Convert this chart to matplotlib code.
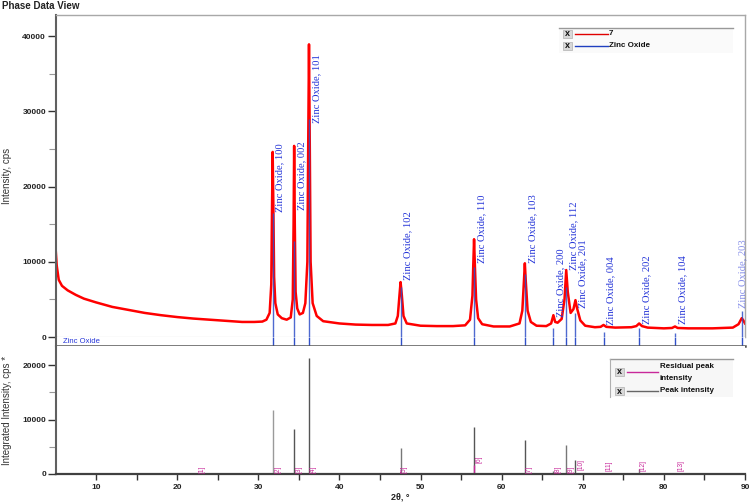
import matplotlib
matplotlib.use('Agg')
import matplotlib.pyplot as plt
from matplotlib.patches import Rectangle
from matplotlib.lines import Line2D

# ---------------- data ----------------
two_theta = [5.0, 5.15, 5.4, 5.8, 6.5, 7.5, 8.5, 10.0, 12.0, 14.0, 16.0, 18.0, 20.0, 22.0,
             24.0, 26.0, 28.0, 29.5, 30.5, 31.0, 31.4, 31.6, 31.7, 31.77, 31.85, 31.95,
             32.1, 32.4, 32.9, 33.5, 34.0, 34.25, 34.35, 34.42, 34.5, 34.6, 34.8, 35.1,
             35.5, 35.8, 36.05, 36.15, 36.25, 36.35, 36.45, 36.7, 37.2, 38.0, 40.0, 42.0,
             44.0, 46.0, 46.9, 47.2, 47.4, 47.54, 47.7, 47.9, 48.3, 50.0, 52.0, 54.0, 55.5,
             56.1, 56.4, 56.5, 56.6, 56.7, 56.85, 57.1, 57.6, 59.0, 61.0, 62.2, 62.55,
             62.75, 62.86, 62.97, 63.2, 63.6, 64.3, 65.5, 66.1, 66.38, 66.6, 66.9, 67.4,
             67.75, 67.96, 68.15, 68.5, 68.85, 69.1, 69.3, 69.7, 70.3, 71.5, 72.2, 72.56,
             72.9, 74.0, 76.0, 76.6, 76.95, 77.3, 78.0, 80.0, 81.0, 81.37, 81.7, 83.0,
             86.0, 88.5, 89.2, 89.6, 89.8, 90.0]
intensity = [12000, 9500, 7600, 6800, 6200, 5600, 5100, 4600, 4000, 3600, 3200, 2900, 2650,
             2450, 2300, 2150, 2000, 2000, 2050, 2300, 3200, 7000, 18000, 24600, 18000,
             8000, 4500, 3000, 2500, 2300, 2600, 5000, 15000, 25400, 15000, 6000, 3800,
             3000, 3200, 4500, 10000, 25000, 38900, 25000, 10000, 4500, 2800, 2100, 1800,
             1650, 1600, 1600, 1800, 2800, 5500, 7300, 5500, 2800, 1800, 1500, 1450, 1450,
             1550, 2300, 5500, 9500, 13000, 9500, 5000, 2500, 1700, 1400, 1400, 1800, 3500,
             7500, 9800, 7500, 3500, 2000, 1500, 1450, 1800, 2900, 2000, 1900, 2400, 5000,
             8900, 6000, 3200, 3700, 4900, 3800, 2200, 1500, 1300, 1350, 1600, 1350, 1250,
             1300, 1450, 1800, 1450, 1250, 1150, 1200, 1400, 1200, 1150, 1150, 1250, 1700,
             2500, 2200, 1800]

peak_pos = [31.77, 34.42, 36.25, 47.54, 56.60, 62.86, 66.38, 67.96, 69.10, 72.56,
            76.95, 81.37, 89.60]
hkl = ['100', '002', '101', '102', '110', '103', '200', '112', '201', '004', '202',
       '104', '203']
ref_height = [16500, 12800, 29000, 6700, 9300, 8400, 1200, 6700, 3200, 600, 1200, 500, 3400]
label_y = [16600, 16900, 28400, 7600, 9800, 9900, 2700, 8900, 3900, 1600, 1700, 1700, 3800]

stick_pos = [31.77, 34.42, 36.25, 47.54, 56.60, 62.86, 66.38, 67.96, 69.10, 76.95]
stick_int = [11800, 8300, 21300, 4700, 8650, 6200, 550, 5300, 2560, 860]
stick_col = ['#9a9a9a', '#555555', '#555555', '#777777', '#555555', '#555555',
             '#777777', '#777777', '#555555', '#777777']
resid_pos = [56.60]
resid_int = [1600]

peak_no = ['[1]', '[2]', '[3]', '[4]', '[5]', '[6]', '[7]', '[8]', '[9]', '[10]', '[11]',
           '[12]', '[13]']
peak_no_x = [23.1, 32.4, 35.0, 36.8, 48.0, 57.2, 63.4, 66.9, 68.5, 69.8, 73.2, 77.4, 82.1]
peak_no_y = [200, 200, 200, 200, 150, 2000, 200, 200, 200, 700, 500, 500, 500]

x_ticks = [10, 20, 30, 40, 50, 60, 70, 80, 90]

# ---------------- figure ----------------
W, H = 750, 503
fig = plt.figure(figsize=(7.5, 5.03), dpi=100)
plt.rcParams['font.family'] = ['Liberation Sans', 'DejaVu Sans']

def fx(px):
    return px / W

def fy(py):
    return 1 - py / H

L, R = 55.5, 745.0
ax1 = fig.add_axes([fx(L), fy(337), fx(R) - fx(L), (337 - 15) / H])
strip = fig.add_axes([fx(L), fy(346), fx(R) - fx(L), 9 / H])
ax2 = fig.add_axes([fx(L), fy(474), fx(R) - fx(L), (474 - 346) / H])

BLUE = '#3050c8'
TXTBLUE = '#2636d8'
MAG = '#c8289a'

tick_font = dict(fontsize=6, fontweight='bold', color='#222222')

# ---- top panel
ax1.plot(two_theta, intensity, color='#ff0000', lw=1.8, zorder=2, solid_joinstyle='round')
ax1.vlines(peak_pos, 0, ref_height, color=BLUE, lw=1.0, alpha=0.85, zorder=3)
for p, h, ly in zip(peak_pos, hkl, label_y):
    last = (h == '203')
    ax1.annotate('Zinc Oxide, ' + h, xy=(p, ly), xytext=(-2.5 if last else 2.2, 0),
                 textcoords='offset points',
                 rotation=90, ha='left', va='bottom', fontsize=7.6,
                 family=['Liberation Serif', 'DejaVu Serif'], color=TXTBLUE,
                 alpha=0.55 if last else 1.0, annotation_clip=False, zorder=4)
ax1.set_xlim(5, 90)
ax1.set_ylim(0, 42800)
ax1.set_yticks([0, 10000, 20000, 30000, 40000])
ax1.set_yticks([5000, 15000, 25000, 35000], minor=True)
ax1.set_yticklabels(['0', '10000', '20000', '30000', '40000'], **tick_font)
ax1.set_xticks([])
ax1.tick_params(axis='y', which='major', direction='out', length=6, width=1, color='#333333', pad=0.8)
ax1.tick_params(axis='y', which='minor', direction='out', length=5, width=0.8, color='#999999')
ax1.spines['left'].set_color('#606060')
ax1.spines['left'].set_linewidth(1.5)
ax1.spines['top'].set_color('#a8a8a8')
ax1.spines['top'].set_linewidth(1.0)
ax1.spines['right'].set_color('#a8a8a8')
ax1.spines['right'].set_linewidth(1.0)
ax1.spines['bottom'].set_color('#b0b0b0')
ax1.spines['bottom'].set_linewidth(0.8)
ax1.set_ylabel('Intensity, cps', fontsize=7, color='#333333', labelpad=0)
ax1.yaxis.set_label_coords(-43 / (R - L), 0.5)

# ---- strip
strip.set_xlim(5, 90)
strip.set_ylim(0, 1)
strip.vlines(peak_pos, 0, 1, color=BLUE, lw=1.0)
strip.text(5.9, 0.5, 'Zinc Oxide', fontsize=5.5, color=TXTBLUE, va='center', ha='left')
strip.set_xticks([])
strip.set_yticks([])
strip.spines['left'].set_color('#606060')
strip.spines['left'].set_linewidth(1.5)
strip.spines['top'].set_visible(False)
strip.spines['right'].set_visible(False)
strip.spines['bottom'].set_color('#555555')
strip.spines['bottom'].set_linewidth(1.8)

# ---- bottom panel
ax2.vlines(stick_pos, 0, stick_int, colors=stick_col, lw=1.0)
ax2.vlines(resid_pos, 0, resid_int, colors=MAG, lw=1.0)
for t, x, y in zip(peak_no, peak_no_x, peak_no_y):
    ax2.text(x, y, t, rotation=90, ha='center', va='bottom', fontsize=4.8, color=MAG)
ax2.set_xlim(5, 90)
ax2.set_ylim(0, 23500)
ax2.set_yticks([0, 10000, 20000])
ax2.set_yticks([5000, 15000], minor=True)
ax2.set_yticklabels(['0', '10000', '20000'], **tick_font)
ax2.set_xticks(x_ticks)
ax2.set_xticks([15, 25, 35, 45, 55, 65, 75, 85], minor=True)
ax2.set_xticklabels([str(v) for v in x_ticks], **tick_font)
ax2.tick_params(axis='y', which='major', direction='out', length=6, width=1, color='#333333', pad=0.8)
ax2.tick_params(axis='y', which='minor', direction='out', length=5, width=0.8, color='#999999')
ax2.tick_params(axis='x', which='both', direction='out', length=4.5, width=1, color='#333333', pad=2.5)
ax2.spines['left'].set_color('#606060')
ax2.spines['left'].set_linewidth(1.5)
ax2.spines['bottom'].set_color('#404040')
ax2.spines['bottom'].set_linewidth(1.6)
ax2.spines['top'].set_visible(False)
ax2.spines['right'].set_visible(False)
ax2.set_ylabel('Integrated Intensity, cps *', fontsize=7, color='#333333', labelpad=0)
ax2.yaxis.set_label_coords(-43 / (R - L), 0.5)
ax2.set_xlabel('2θ, °', fontsize=6.5, fontweight='bold', color='#222222', labelpad=1.5)

# ---- title
fig.text(fx(2), fy(6), 'Phase Data View', fontsize=7, fontweight='bold', color='#222222',
         ha='left', va='center')

# ---- legends (drawn in figure pixel coordinates)
def checkbox(cx, cy):
    fig.patches.append(Rectangle((fx(cx - 4.5), fy(cy + 4)), 9 / W, 8 / H,
                                 transform=fig.transFigure, facecolor='#d8d8d8',
                                 edgecolor='#b0b0b0', lw=0.5))
    fig.text(fx(cx), fy(cy), 'x', fontsize=6.5, fontweight='bold', ha='center',
             va='center', color='#111111')

def hline(x0, x1, y, color, lw=1.0):
    fig.lines.append(Line2D([fx(x0), fx(x1)], [fy(y), fy(y)], transform=fig.transFigure,
                            color=color, lw=lw))

def vline(x, y0, y1, color, lw=1.0):
    fig.lines.append(Line2D([fx(x), fx(x)], [fy(y0), fy(y1)], transform=fig.transFigure,
                            color=color, lw=lw))

leg_font = dict(fontsize=5.8, fontweight='bold', color='#111111', ha='left', va='center')

fig.patches.append(Rectangle((fx(559), fy(53)), (733 - 559) / W, 25 / H,
                             transform=fig.transFigure, facecolor='#fafafa', edgecolor='none'))
hline(559, 733, 27.7, '#999999', 1.0)
checkbox(567.5, 33.5)
hline(575, 608, 33.5, '#e00000', 1.0)
fig.text(fx(609), fy(33.5), '7', **leg_font)
checkbox(567.5, 45.5)
hline(575, 608, 45.5, '#2040c0', 1.0)
fig.text(fx(609), fy(45.5), 'Zinc Oxide', **leg_font)

fig.patches.append(Rectangle((fx(610), fy(397)), (733 - 610) / W, (397 - 359.3) / H,
                             transform=fig.transFigure, facecolor='#f7f7f7', edgecolor='none'))
hline(610, 733, 359.3, '#999999', 1.0)
vline(610, 359.3, 397, '#b0b0b0', 0.8)
checkbox(619.5, 372)
hline(627, 658, 372, MAG, 1.0)
fig.text(fx(660), fy(366.5), 'Residual peak', **leg_font)
fig.text(fx(660), fy(379), 'intensity', **leg_font)
checkbox(619.5, 391)
hline(627, 658, 391, '#666666', 1.0)
fig.text(fx(660), fy(391), 'Peak intensity', **leg_font)

fig.savefig('out.png', dpi=100)
